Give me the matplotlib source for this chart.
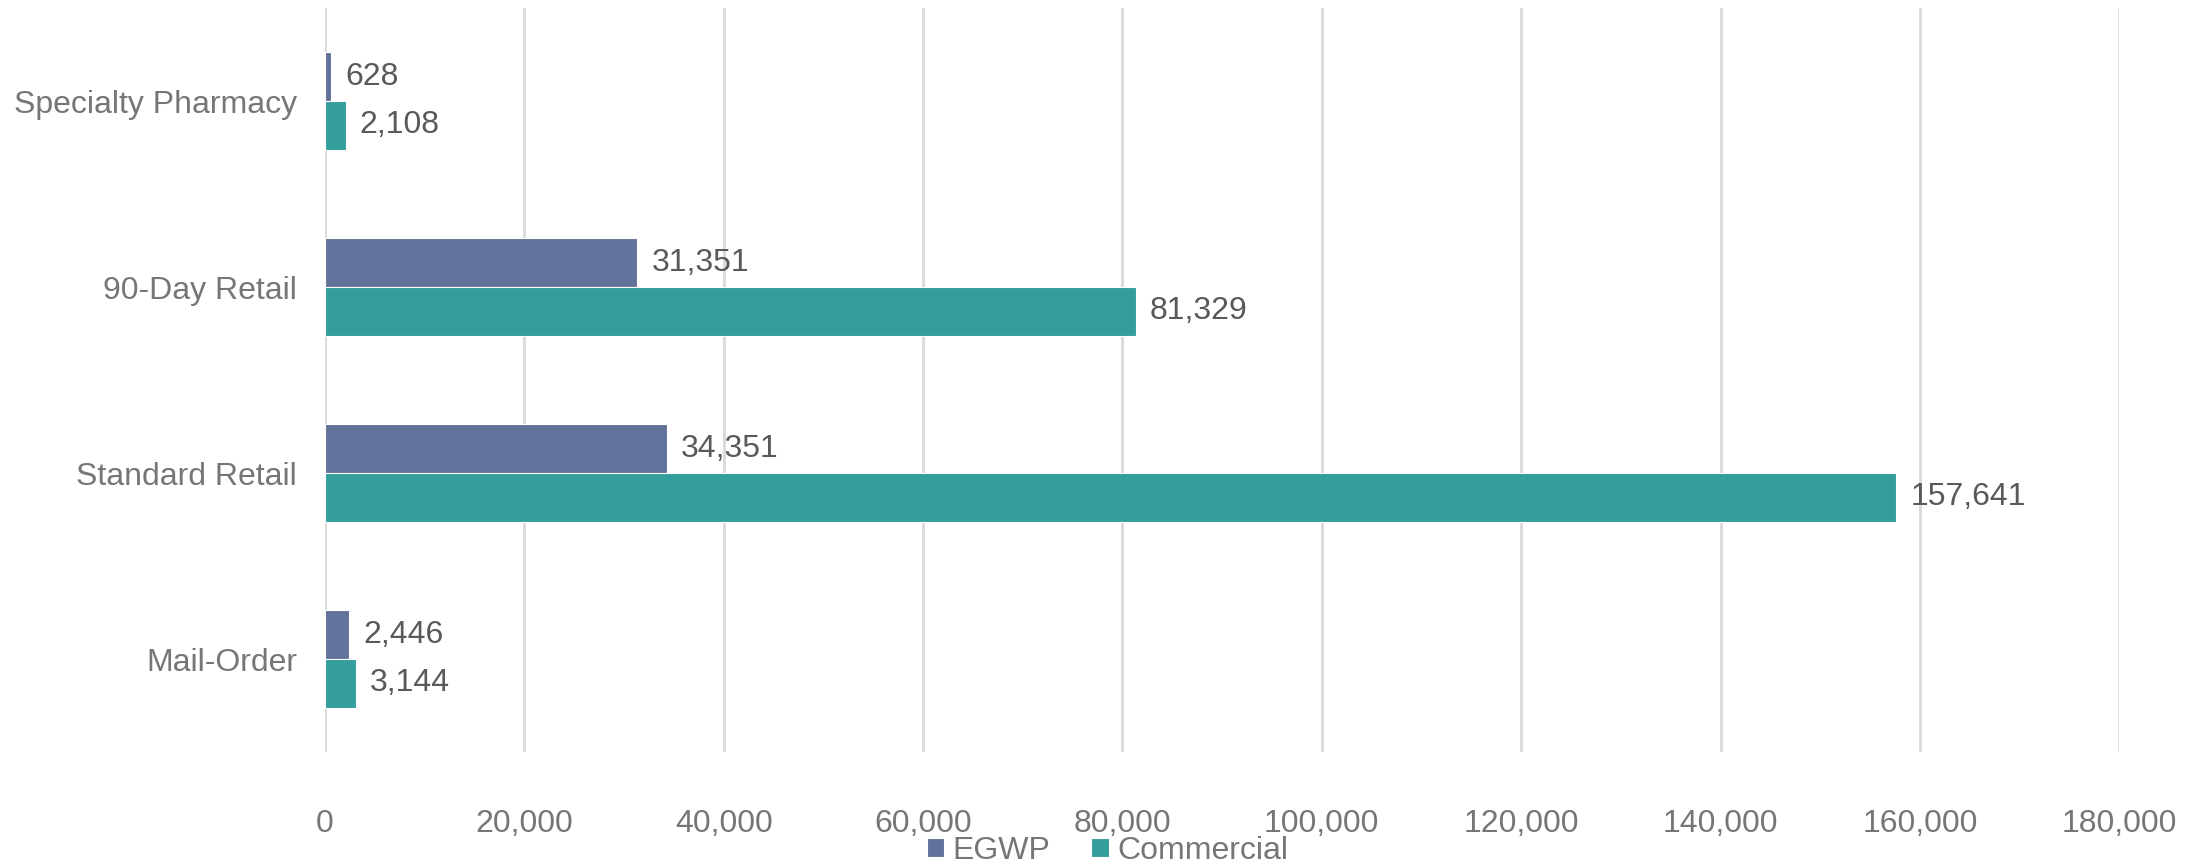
import matplotlib.pyplot as plt
from matplotlib.ticker import FuncFormatter

categories = ['Mail-Order', 'Standard Retail', '90-Day Retail', 'Specialty Pharmacy']
egwp = [2446, 34351, 31351, 628]
commercial = [3144, 157641, 81329, 2108]
xticks = [0, 20000, 40000, 60000, 80000, 100000, 120000, 140000, 160000, 180000]

c_egwp = '#63729A'
c_comm = '#339E9B'
tick_col = '#767676'
lab_col = '#595959'

plt.rcParams['font.family'] = ['Liberation Sans', 'DejaVu Sans']

fig = plt.figure(figsize=(22.03, 8.64), dpi=100)
ax = fig.add_axes([0.1475, 0.1296, 0.8145, 0.8611])

h = 0.262
y = list(range(len(categories)))
b1 = ax.barh([i + h / 2 for i in y], egwp, height=h, color=c_egwp, label='EGWP',
             edgecolor='white', linewidth=0.8, zorder=3)
b2 = ax.barh([i - h / 2 for i in y], commercial, height=h, color=c_comm, label='Commercial',
             edgecolor='white', linewidth=0.8, zorder=3)

fmt = lambda v: f'{v:,.0f}'
ax.bar_label(b1, labels=[fmt(v) for v in egwp], padding=10, fontsize=23, color=lab_col)
ax.bar_label(b2, labels=[fmt(v) for v in commercial], padding=10, fontsize=23, color=lab_col)

ax.set_xlim(0, 180000)
ax.set_ylim(-0.5, 3.5)
ax.set_xticks(xticks)
ax.xaxis.set_major_formatter(FuncFormatter(lambda v, p: f'{v:,.0f}'))
ax.set_yticks(y)
ax.set_yticklabels(categories)
ax.tick_params(axis='both', length=0, labelsize=23, colors=tick_col)
ax.tick_params(axis='x', pad=41)
ax.tick_params(axis='y', pad=20)
ax.grid(axis='x', color='#D9D9D9', linewidth=2, zorder=0)
for s in ax.spines.values():
    s.set_visible(False)

ax.legend(loc='center', bbox_to_anchor=(0.436, -0.133), ncol=2, frameon=False,
          fontsize=23, labelcolor=tick_col, handlelength=0.55, handleheight=0.55,
          handletextpad=0.25, columnspacing=1.3, borderpad=0)

fig.savefig('out.png', dpi=100)
